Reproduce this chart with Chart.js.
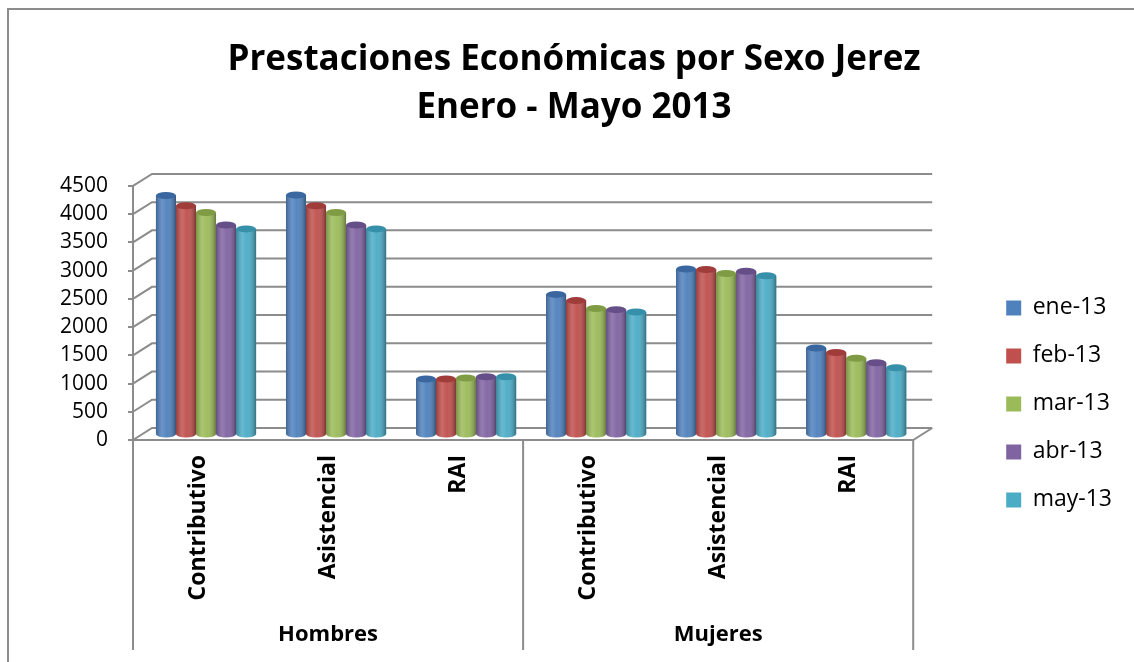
<!DOCTYPE html>
<html>
<head>
<meta charset="utf-8">
<script src="https://cdn.jsdelivr.net/npm/chart.js@4.4.1/dist/chart.umd.min.js"></script>
<style>
  html, body { margin: 0; padding: 0; background: #fff; }
</style>
</head>
<body>
<canvas id="chart" width="1134" height="662"></canvas>
<script>
// Prestaciones Económicas por Sexo — Jerez, enero-mayo 2013
const titleLines = ['Prestaciones Económicas por Sexo Jerez', 'Enero - Mayo 2013'];
const categories = ['Contributivo', 'Asistencial', 'RAI', 'Contributivo', 'Asistencial', 'RAI'];
const groups = ['Hombres', 'Mujeres'];
const months = ['ene-13', 'feb-13', 'mar-13', 'abr-13', 'may-13'];

const ene13 = [4240, 4250, 990, 2490, 2940, 1540];
const feb13 = [4060, 4060, 990, 2380, 2930, 1460];
const mar13 = [3940, 3940, 1010, 2240, 2860, 1360];
const abr13 = [3720, 3720, 1030, 2220, 2900, 1280];
const may13 = [3650, 3650, 1030, 2180, 2820, 1190];

const yMax = 4500;
const yStep = 500;

// office 2007 palette + darker cap colour
const seriesColors = ['#4f81bd', '#c0504d', '#9bbb59', '#8064a2', '#4bacc6'];
const capColors = ['#3a67a0', '#a03d3a', '#7f9c45', '#664f88', '#3690aa'];

const GRID = '#8c8c8c';
const DEPTH_X = 19, DEPTH_Y = 12;   // back wall offset
const BAR_DX = 8, BAR_DY = -5;      // bars sit mid-depth
const PAD_L = 26, PAD_R = 12;

Chart.defaults.font.family = "'Open Sans', sans-serif";
Chart.defaults.color = '#000';

const boxPlugin = {
  id: 'box3d',
  beforeDraw(chart) {
    const { ctx } = chart;
    ctx.save();
    ctx.fillStyle = '#fff';
    ctx.fillRect(0, 0, chart.width, chart.height);
    ctx.strokeStyle = GRID;
    ctx.lineWidth = 2;
    ctx.beginPath();
    ctx.moveTo(8, chart.height);
    ctx.lineTo(8, 9);
    ctx.lineTo(chart.width, 9);
    ctx.stroke();
    ctx.restore();
  },
  beforeDatasetsDraw(chart) {
    const { ctx, chartArea: a, scales: { x, y } } = chart;
    ctx.save();
    ctx.strokeStyle = GRID;
    ctx.lineWidth = 2;
    y.ticks.forEach((t) => {
      const py = y.getPixelForValue(t.value);
      ctx.beginPath();
      ctx.moveTo(a.left, py);
      ctx.lineTo(a.left + DEPTH_X, py - DEPTH_Y);
      ctx.lineTo(a.right + DEPTH_X, py - DEPTH_Y);
      ctx.stroke();
    });
    // front floor edge
    ctx.beginPath();
    ctx.moveTo(a.left, a.bottom);
    ctx.lineTo(a.right, a.bottom);
    ctx.lineTo(a.right + DEPTH_X, a.bottom - DEPTH_Y);
    ctx.stroke();
    // Hombres / Mujeres separators
    const mid = (x.getPixelForValue(2) + x.getPixelForValue(3)) / 2;
    [a.left, mid, a.right].forEach((px) => {
      ctx.beginPath();
      ctx.moveTo(px, a.bottom);
      ctx.lineTo(px, 650);
      ctx.stroke();
    });
    ctx.restore();

    ctx.save();
    ctx.translate(BAR_DX, BAR_DY);
  },
  afterDatasetsDraw(chart) {
    const { ctx } = chart;
    chart.data.datasets.forEach((ds, i) => {
      chart.getDatasetMeta(i).data.forEach((bar) => {
        const { x, y, base, width } = bar.getProps(['x', 'y', 'base', 'width'], true);
        const l = x - width / 2, r = x + width / 2, ry = 3.5;
        const body = () => {
          ctx.beginPath();
          ctx.moveTo(l, y);
          ctx.lineTo(l, base);
          ctx.ellipse(x, base, width / 2, ry, 0, Math.PI, 0, true);
          ctx.lineTo(r, y);
          ctx.closePath();
        };
        ctx.fillStyle = seriesColors[i];
        body();
        ctx.fill();
        const g = ctx.createLinearGradient(l, 0, r, 0);
        g.addColorStop(0, 'rgba(0,0,0,0.22)');
        g.addColorStop(0.3, 'rgba(255,255,255,0.16)');
        g.addColorStop(0.55, 'rgba(255,255,255,0.04)');
        g.addColorStop(1, 'rgba(0,0,0,0.35)');
        ctx.fillStyle = g;
        body();
        ctx.fill();
        ctx.fillStyle = capColors[i];
        ctx.beginPath();
        ctx.ellipse(x, y, width / 2, ry, 0, 0, Math.PI * 2);
        ctx.fill();
      });
    });
    ctx.restore();
  },
};

const series = [ene13, feb13, mar13, abr13, may13];

new Chart(document.getElementById('chart'), {
  type: 'bar',
  data: {
    labels: categories,
    datasets: series.map((values, i) => ({
      label: months[i],
      data: values,
      backgroundColor: seriesColors[i],
      borderWidth: 0,
      xAxisID: 'x',
      yAxisID: 'y',
      categoryPercentage: 0.77,
      barPercentage: 1,
      clip: false,
    })),
  },
  options: {
    responsive: false,
    animation: false,
    events: [],
    layout: { padding: { left: PAD_L, right: PAD_R, top: 0, bottom: 0 } },
    plugins: {
      title: {
        display: true,
        text: titleLines,
        color: '#000',
        font: { size: 35, weight: 'bold', lineHeight: 1.37 },
        padding: { top: 36, bottom: 54 },
      },
      legend: {
        position: 'right',
        align: 'start',
        title: { display: true, text: '', padding: { top: 257, bottom: 0 } },
        labels: { boxWidth: 15, boxHeight: 15, padding: 25, color: '#000', font: { size: 23 } },
      },
      tooltip: { enabled: false },
    },
    scales: {
      x: {
        grid: { display: false, drawTicks: false },
        border: { display: false },
        ticks: {
          autoSkip: false, minRotation: 90, maxRotation: 90, padding: 15,
          color: '#000', font: { size: 23, weight: 'bold' },
        },
        afterFit: (s) => { s.height = 162; },
      },
      x2: {
        type: 'category',
        labels: groups,
        position: 'bottom',
        weight: 1,
        offset: true,
        grid: { display: false, drawTicks: false },
        border: { display: false },
        ticks: { padding: 20, color: '#000', font: { size: 22, weight: 'bold' } },
        afterFit: (s) => { s.height = 60; },
      },
      y: {
        min: 0,
        max: yMax,
        ticks: {
          stepSize: yStep, padding: 20, color: '#000', font: { size: 21 },
          autoSkip: false,
          callback: (v) => String(v),
        },
        grid: { drawOnChartArea: false, tickLength: 5, color: GRID, lineWidth: 2 },
        border: { color: GRID, width: 2 },
        afterFit: (s) => { s.width = 133 - PAD_L; },
      },
      pad: {
        type: 'linear',
        position: 'right',
        grid: { display: false },
        border: { display: false },
        ticks: { display: false },
        afterFit: (s) => { s.width = 68; },
      },
    },
  },
  plugins: [boxPlugin],
});
</script>
</body>
</html>
